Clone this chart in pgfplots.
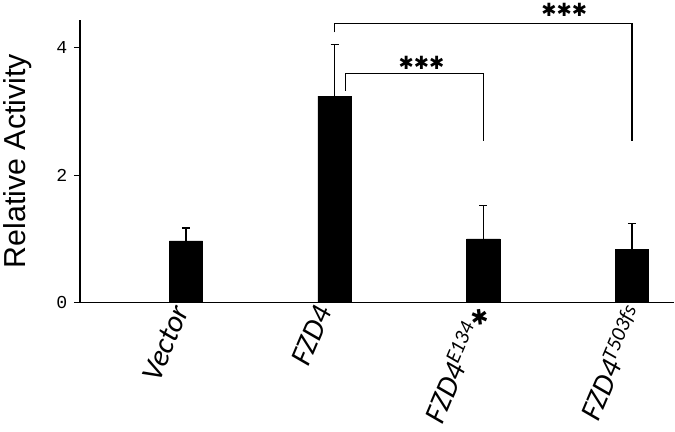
\documentclass[border=0pt]{standalone}
\usepackage{pgfplots}
\pgfplotsset{compat=1.18}
\usepackage{fontspec}
\setmainfont{Liberation Sans}
\newfontfamily\labfont{Carlito}
\newfontfamily\tickfont{Liberation Mono}
\newfontfamily\symfont{DejaVu Sans}
\begin{document}
\begin{tikzpicture}
\begin{axis}[
  scale only axis, width=588pt, height=280pt,
  xmin=-0.714, xmax=3.286, ymin=0, ymax=4.44,
  clip=false,
  axis x line*=bottom, axis y line*=left,
  axis line style={line width=1.2pt, -},
  ytick={0,2,4}, tick align=outside, major tick length=6pt,
  y tick style={line width=1.2pt, black},
  /pgf/number format/assume math mode=true,
  yticklabel style={font=\fontsize{18}{18}\tickfont, xshift=-3pt},
  xtick={-0.1,0.86,1.9,2.94}, x tick style={draw=none},
  xticklabels={Vector, FZD4, FZD4\textsuperscript{E134}{\upshape\symfont\fontsize{21}{21}\selectfont ✱}, FZD4\textsuperscript{T503fs}},
  xticklabel style={font=\fontsize{30}{30}\labfont\itshape, yshift=7pt, rotate=67, anchor=north east, inner sep=1pt},
  ylabel={Relative Activity},
  ylabel style={font=\fontsize{30}{30}\selectfont, at={(axis description cs:-0.105,0.5)}, anchor=center},
]
\addplot[ybar, bar width=33pt, fill=black, draw=black, line width=0.5pt,
  error bars/.cd, y dir=plus, y explicit,
  error bar style={line width=1.2pt, black},
  error mark options={rotate=90, mark size=4pt, line width=1.2pt, black}]
  table[x=x, y=y, y error=e] {
x y e
0 0.97 0.20
1 3.24 0.81
2 1.00 0.52
3 0.84 0.40
};
\draw[line width=1.2pt] (axis cs:1,4.24) -- (axis cs:1,4.38) -- (axis cs:3,4.38) -- (axis cs:3,2.54);
\draw[line width=1.2pt] (axis cs:1.075,3.32) -- (axis cs:1.075,3.59) -- (axis cs:2,3.59) -- (axis cs:2,2.54);
\node[font=\fontsize{18}{18}\symfont] at (axis cs:2.544,4.59) {✱✱✱};
\node[font=\fontsize{18}{18}\symfont] at (axis cs:1.585,3.76) {✱✱✱};
\end{axis}
\path (current bounding box.south) ++(0,-5pt) coordinate (extra);
\path (extra) circle (0pt);
\end{tikzpicture}
\end{document}
